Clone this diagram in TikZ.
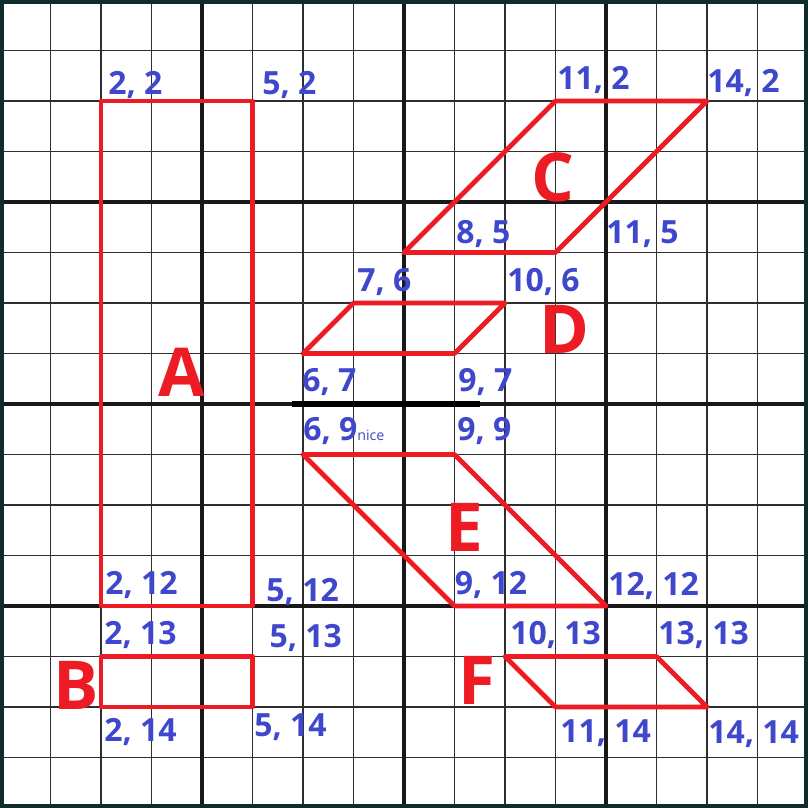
\documentclass[tikz,border=0pt]{standalone}
\usepackage{fontspec}
\setmainfont{Open Sans}
\usepackage{tikz}

\definecolor{paintred}{HTML}{ED1C24}
\definecolor{paintblue}{HTML}{3F48CC}
\definecolor{frameteal}{HTML}{0E2C2C}

\begin{document}
\begin{tikzpicture}[
    x=1cm, y=-1cm,
    cellline/.style={draw=black!82, line width=1pt},
    blockline/.style={draw=black!90, line width=2.2pt},
    figline/.style={draw=paintred, line width=2.7pt, line join=round},
    coord/.style={text=paintblue, anchor=base west, inner sep=0pt,
    font=\bfseries\fontsize{18}{18}\selectfont},
    letter/.style={text=paintred, inner sep=0pt,
    font=\bfseries\fontsize{38}{38}\selectfont}
]
\useasboundingbox (0,0) rectangle (16,16);
\fill[white] (0,0) rectangle (16,16);

% grid
\foreach \i in {1,...,15} {
  \draw[cellline] (\i,0) -- (\i,16);
  \draw[cellline] (0,\i) -- (16,\i);
}
\foreach \i in {4,8,12} {
  \draw[blockline] (\i,0) -- (\i,16);
  \draw[blockline] (0,\i) -- (16,\i);
}
\draw[draw=frameteal, line width=2.2pt] (0.04,0.04) rectangle (15.96,15.96);

% extra mark on row 8
\coordinate (m1) at (5.78,8);
\coordinate (m2) at (9.5,8);
\draw[black, line width=3.6pt] (m1) -- (m2);

% vertices
\coordinate (a1) at (2,2);   \coordinate (a2) at (5,2);
\coordinate (a3) at (5,12);  \coordinate (a4) at (2,12);
\coordinate (b1) at (2,13);  \coordinate (b2) at (5,13);
\coordinate (b3) at (5,14);  \coordinate (b4) at (2,14);
\coordinate (c1) at (8,5);   \coordinate (c2) at (11,2);
\coordinate (c3) at (14,2);  \coordinate (c4) at (11,5);
\coordinate (d1) at (6,7);   \coordinate (d2) at (7,6);
\coordinate (d3) at (10,6);  \coordinate (d4) at (9,7);
\coordinate (e1) at (6,9);   \coordinate (e2) at (9,9);
\coordinate (e3) at (12,12); \coordinate (e4) at (9,12);
\coordinate (f1) at (10,13); \coordinate (f2) at (13,13);
\coordinate (f3) at (14,14); \coordinate (f4) at (11,14);

% figures
\draw[figline] (a1) -- (a2) -- (a3) -- (a4) -- cycle;
\draw[figline] (b1) -- (b2) -- (b3) -- (b4) -- cycle;
\draw[figline] (c1) -- (c2) -- (c3) -- (c4) -- cycle;
\draw[figline] (d1) -- (d2) -- (d3) -- (d4) -- cycle;
\draw[figline] (e1) -- (e2) -- (e3) -- (e4) -- cycle;
\draw[figline] (f1) -- (f2) -- (f3) -- (f4) -- cycle;

% figure letters
\node[letter] (la) at (3.6,7.37) {A};
\node[letter] (lb) at (1.51,13.58) {B};
\node[letter] (lc) at (10.95,3.52) {C};
\node[letter] (ld) at (11.17,6.53) {D};
\node[letter] (le) at (9.2,10.45) {E};
\node[letter] (lf) at (9.44,13.47) {F};

% corner coordinates
\node[coord] (ta1) at (2.14,1.87) {2, 2};
\node[coord] (ta2) at (5.19,1.87) {5, 2};
\node[coord] (ta4) at (2.08,11.78) {2, 12};
\node[coord] (ta3) at (5.27,11.91) {5, 12};
\node[coord] (tb1) at (2.06,12.76) {2, 13};
\node[coord] (tb2) at (5.33,12.83) {5, 13};
\node[coord] (tb4) at (2.06,14.69) {2, 14};
\node[coord] (tb3) at (5.03,14.59) {5, 14};
\node[coord] (tc2) at (11.03,1.78) {11, 2};
\node[coord] (tc3) at (14.0,1.83) {14, 2};
\node[coord] (tc1) at (9.03,4.83) {8, 5};
\node[coord] (tc4) at (12.0,4.83) {11, 5};
\node[coord] (td2) at (7.07,5.78) {7, 6};
\node[coord] (td3) at (10.04,5.78) {10, 6};
\node[coord] (td1) at (5.98,7.75) {6, 7};
\node[coord] (td4) at (9.07,7.75) {9, 7};
\node[coord] (te1) at (6.0,8.73) {6, 9{\mdseries\fontsize{8}{8}\selectfont nice}};
\node[coord] (te2) at (9.05,8.73) {9, 9};
\node[coord] (te4) at (9.0,11.78) {9, 12};
\node[coord] (te3) at (12.04,11.79) {12, 12};
\node[coord] (tf1) at (10.1,12.76) {10, 13};
\node[coord] (tf2) at (13.03,12.76) {13, 13};
\node[coord] (tf4) at (11.09,14.70) {11, 14};
\node[coord] (tf3) at (14.02,14.73) {14, 14};
\end{tikzpicture}
\end{document}
